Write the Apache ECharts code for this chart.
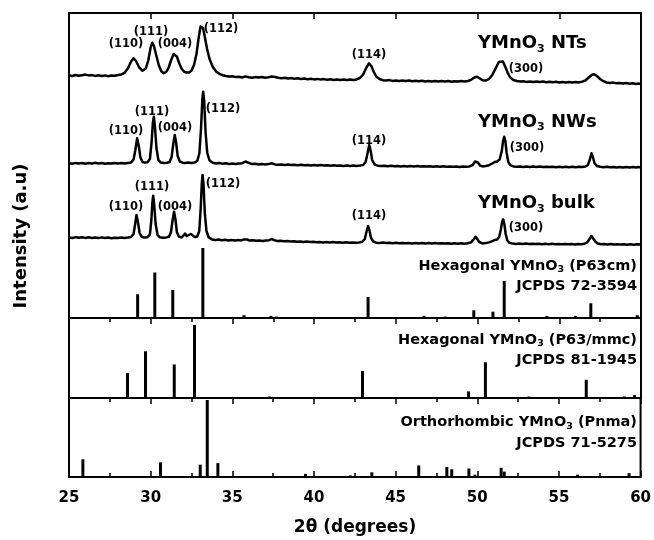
<!DOCTYPE html>
<html><head><meta charset="utf-8">
<script src="https://cdn.jsdelivr.net/npm/echarts@6/dist/echarts.min.js"></script>
<style>html,body{margin:0;padding:0;background:#fff}#c{width:654px;height:540px}</style>
</head><body><div id="c"></div>
<script>
// ---------- DATA ----------
const xMin = 25, xMax = 60, xStep = 5;
const xTickLabels = ['25','30','35','40','45','50','55','60'];

// measured XRD patterns: [2θ, intensity (a.u.)]
const ntsPattern = [
[25.0,12.5],[25.2,12.0],[25.4,13.0],[25.6,12.2],[25.8,12.8],[26.0,13.4],[26.2,12.6],[26.4,12.9],[26.6,12.1],[26.8,12.7],
[27.0,12.0],[27.2,12.6],[27.4,11.8],[27.6,12.4],[27.8,12.2],[28.0,13.0],[28.2,13.6],[28.4,15.2],[28.6,19.5],[28.8,26.5],
[28.95,29.7],[29.1,27.0],[29.3,20.5],[29.5,17.2],[29.7,19.5],[29.85,27.5],[30.0,41.0],[30.1,45.3],[30.2,42.0],[30.35,32.0],
[30.5,22.5],[30.65,16.8],[30.8,14.8],[30.95,16.0],[31.1,20.5],[31.25,28.0],[31.4,34.0],[31.47,34.7],[31.6,31.5],[31.75,24.5],
[31.9,19.0],[32.05,16.2],[32.2,15.4],[32.35,15.6],[32.5,17.5],[32.65,23.0],[32.8,34.0],[32.95,52.0],[33.05,61.5],[33.12,63.0],
[33.2,60.0],[33.3,52.0],[33.45,39.0],[33.6,29.0],[33.8,21.0],[34.0,16.5],[34.2,14.2],[34.4,12.8],[34.6,12.0],[34.8,11.4],
[35.0,11.8],[35.2,10.9],[35.4,11.2],[35.6,10.5],[35.8,11.6],[36.0,10.8],[36.2,10.2],[36.4,10.9],[36.6,10.4],[36.8,10.9],
[37.0,10.3],[37.2,10.8],[37.4,11.4],[37.6,11.0],[37.8,10.2],[38.0,9.8],[38.2,10.3],[38.4,9.5],[38.6,9.9],[38.8,9.2],
[39.0,9.7],[39.2,9.1],[39.4,9.4],[39.6,8.8],[39.8,9.3],[40.0,8.6],[40.2,9.1],[40.4,8.4],[40.6,8.9],[40.8,8.2],
[41.0,8.7],[41.2,8.1],[41.4,8.6],[41.6,8.0],[41.8,8.5],[42.0,7.9],[42.2,8.4],[42.4,8.0],[42.6,8.6],[42.8,10.0],
[43.0,13.5],[43.2,20.5],[43.35,24.7],[43.5,22.0],[43.65,16.0],[43.8,11.5],[44.0,9.0],[44.2,7.8],[44.4,7.4],[44.6,7.9],
[44.8,7.1],[45.0,7.6],[45.2,7.0],[45.4,7.5],[45.6,6.9],[45.8,7.4],[46.0,6.8],[46.2,7.3],[46.4,6.7],[46.6,7.2],
[46.8,6.6],[47.0,7.1],[47.2,6.5],[47.4,7.0],[47.6,6.4],[47.8,6.9],[48.0,6.5],[48.2,7.0],[48.4,6.3],[48.6,6.8],
[48.8,6.4],[49.0,6.9],[49.2,6.5],[49.4,7.0],[49.6,8.2],[49.8,10.5],[49.95,11.3],[50.1,10.0],[50.3,7.8],[50.5,7.4],
[50.7,9.0],[50.9,13.0],[51.1,19.5],[51.3,26.0],[51.42,28.0],[51.55,26.5],[51.7,21.0],[51.85,15.0],[52.0,10.5],[52.2,8.0],
[52.4,7.0],[52.6,6.4],[52.8,6.8],[53.0,6.1],[53.2,6.6],[53.4,6.0],[53.6,6.5],[53.8,5.9],[54.0,6.4],[54.2,5.8],
[54.4,6.3],[54.6,5.7],[54.8,6.2],[55.0,5.6],[55.2,6.1],[55.4,5.5],[55.6,6.0],[55.8,5.5],[56.0,6.0],[56.2,5.6],
[56.4,6.3],[56.6,7.5],[56.8,10.5],[57.0,13.2],[57.13,13.7],[57.3,12.0],[57.5,9.0],[57.7,6.8],[57.9,5.5],[58.1,5.0],
[58.3,5.4],[58.5,4.7],[58.7,5.1],[58.9,4.5],[59.1,4.9],[59.3,4.3],[59.5,4.7],[59.7,4.1],[59.85,4.5],[60.0,4.0]
];
const nwsPattern = [
[25.0,9.8],[25.2,9.2],[25.4,10.1],[25.6,9.5],[25.8,10.0],[26.0,9.3],[26.2,9.9],[26.4,9.4],[26.6,10.2],[26.8,9.6],
[27.0,9.9],[27.2,9.3],[27.4,9.8],[27.6,9.4],[27.8,10.0],[28.0,9.5],[28.2,9.9],[28.4,9.6],[28.6,10.1],[28.8,10.6],
[28.95,13.5],[29.05,22.0],[29.17,34.7],[29.27,27.0],[29.37,15.5],[29.5,11.0],[29.65,10.4],[29.8,10.8],[29.95,14.0],[30.05,30.0],
[30.13,50.0],[30.19,56.3],[30.26,46.0],[30.35,25.0],[30.47,13.0],[30.6,10.6],[30.8,10.0],[31.0,10.3],[31.15,11.0],[31.28,16.0],
[31.38,29.0],[31.47,38.0],[31.55,31.0],[31.65,17.0],[31.78,11.5],[31.95,10.3],[32.1,10.0],[32.3,10.4],[32.5,10.1],[32.7,10.6],
[32.85,12.0],[32.98,20.0],[33.08,45.0],[33.16,74.0],[33.21,81.3],[33.27,72.0],[33.36,40.0],[33.46,20.0],[33.6,12.5],[33.8,10.2],
[34.0,9.6],[34.2,9.9],[34.4,9.3],[34.6,9.7],[34.8,9.1],[35.0,9.5],[35.2,9.0],[35.4,9.4],[35.6,9.8],[35.8,11.5],
[35.9,12.0],[36.0,10.2],[36.2,8.9],[36.4,9.2],[36.6,8.6],[36.8,9.0],[37.0,8.5],[37.2,8.9],[37.4,9.7],[37.6,8.6],
[37.8,8.2],[38.0,8.6],[38.2,8.0],[38.4,8.4],[38.6,7.9],[38.8,8.3],[39.0,7.8],[39.2,8.2],[39.4,7.7],[39.6,8.1],
[39.8,7.6],[40.0,8.0],[40.2,7.5],[40.4,7.9],[40.6,7.4],[40.8,7.8],[41.0,7.3],[41.2,7.7],[41.4,7.2],[41.6,7.6],
[41.8,7.1],[42.0,7.5],[42.2,7.0],[42.4,7.4],[42.6,7.0],[42.8,7.4],[43.0,8.0],[43.15,11.0],[43.27,20.0],[43.37,28.0],
[43.45,23.0],[43.55,13.0],[43.7,8.5],[43.9,7.3],[44.1,6.9],[44.3,7.3],[44.5,6.8],[44.7,7.2],[44.9,6.7],[45.1,7.1],
[45.3,6.6],[45.5,7.0],[45.7,6.6],[45.9,7.0],[46.1,6.5],[46.3,6.9],[46.5,6.4],[46.7,6.8],[46.9,6.4],[47.1,6.8],
[47.3,6.3],[47.5,6.7],[47.7,6.3],[47.9,6.7],[48.1,6.2],[48.3,6.6],[48.5,6.2],[48.7,6.6],[48.9,6.1],[49.1,6.5],
[49.3,6.2],[49.5,6.6],[49.7,8.0],[49.85,11.5],[49.92,13.0],[50.02,10.5],[50.15,7.5],[50.3,6.6],[50.5,7.0],[50.7,7.8],
[50.9,9.5],[51.05,11.0],[51.2,11.5],[51.35,13.5],[51.48,22.0],[51.56,32.0],[51.63,36.3],[51.7,32.0],[51.78,20.0],[51.88,11.0],
[52.0,7.8],[52.2,6.6],[52.4,6.2],[52.6,6.6],[52.8,6.1],[53.0,6.5],[53.2,6.0],[53.4,6.4],[53.6,6.0],[53.8,6.4],
[54.0,5.9],[54.2,6.3],[54.4,5.9],[54.6,6.3],[54.8,5.8],[55.0,6.2],[55.2,5.8],[55.4,6.2],[55.6,5.8],[55.8,6.2],
[56.0,5.8],[56.2,6.3],[56.4,6.0],[56.6,6.5],[56.75,8.0],[56.88,14.0],[56.97,19.7],[57.05,16.5],[57.15,10.0],[57.3,7.0],
[57.5,6.2],[57.7,5.8],[57.9,6.2],[58.1,5.7],[58.3,6.1],[58.5,5.6],[58.7,6.0],[58.9,5.6],[59.1,6.0],[59.3,5.5],
[59.5,5.9],[59.7,5.5],[59.85,5.9],[60.0,5.6]
];
const bulkPattern = [
[25.0,10.6],[25.2,10.0],[25.4,10.9],[25.6,10.3],[25.8,10.8],[26.0,10.1],[26.2,10.7],[26.4,10.0],[26.6,10.5],[26.8,9.9],
[27.0,10.6],[27.2,10.0],[27.4,10.4],[27.6,9.8],[27.8,10.3],[28.0,9.9],[28.2,10.5],[28.4,10.0],[28.6,10.4],[28.8,11.0],
[28.95,14.0],[29.03,22.0],[29.13,33.0],[29.22,26.0],[29.32,15.0],[29.45,11.2],[29.6,10.5],[29.8,10.8],[29.95,13.5],[30.04,28.0],
[30.1,45.0],[30.15,52.3],[30.21,44.0],[30.3,24.0],[30.42,13.0],[30.55,10.8],[30.75,10.2],[30.95,10.6],[31.12,11.2],[31.24,16.0],
[31.34,28.0],[31.43,36.3],[31.51,29.0],[31.6,16.0],[31.72,11.5],[31.9,10.5],[32.0,11.5],[32.1,14.5],[32.2,12.0],[32.3,11.0],
[32.45,14.0],[32.55,13.0],[32.7,11.0],[32.85,11.5],[32.97,17.0],[33.06,40.0],[33.13,66.0],[33.17,73.0],[33.23,64.0],[33.31,35.0],
[33.41,17.0],[33.55,10.5],[33.75,8.6],[33.95,8.0],[34.15,8.4],[34.35,7.8],[34.55,8.2],[34.75,7.6],[34.95,8.0],[35.15,7.5],
[35.35,7.9],[35.55,7.6],[35.7,8.6],[35.8,9.5],[35.9,8.5],[36.05,7.4],[36.25,7.8],[36.45,7.2],[36.65,7.6],[36.85,7.1],
[37.05,7.5],[37.25,7.8],[37.4,9.0],[37.55,7.9],[37.75,7.0],[37.95,7.3],[38.15,6.8],[38.35,6.9],[38.55,6.4],[38.75,6.8],
[38.95,6.2],[39.15,6.6],[39.35,6.0],[39.55,6.4],[39.75,5.9],[39.95,6.3],[40.15,5.7],[40.35,6.1],[40.55,5.6],[40.75,6.0],
[40.95,5.5],[41.15,5.9],[41.35,5.4],[41.55,5.8],[41.75,5.3],[41.95,5.7],[42.15,5.2],[42.35,5.6],[42.55,5.2],[42.75,5.6],
[42.95,6.2],[43.1,9.0],[43.2,16.0],[43.3,22.0],[43.38,18.0],[43.48,10.0],[43.62,6.5],[43.8,5.3],[44.0,5.0],[44.2,5.4],
[44.4,4.9],[44.6,5.3],[44.8,4.8],[45.0,5.2],[45.2,4.8],[45.4,5.1],[45.6,4.7],[45.8,5.1],[46.0,4.6],[46.2,5.0],
[46.4,4.6],[46.6,5.0],[46.8,4.5],[47.0,4.9],[47.2,4.5],[47.4,4.9],[47.6,4.4],[47.8,4.8],[48.0,4.4],[48.2,4.8],
[48.4,4.3],[48.6,4.7],[48.8,4.3],[49.0,4.7],[49.2,4.3],[49.4,4.8],[49.6,5.6],[49.75,8.5],[49.88,11.3],[49.98,9.0],
[50.1,6.0],[50.3,4.6],[50.5,4.9],[50.7,5.6],[50.9,6.8],[51.05,8.0],[51.2,8.4],[51.32,11.0],[51.42,18.0],[51.5,26.0],
[51.57,28.7],[51.64,24.0],[51.72,14.0],[51.82,7.5],[51.95,5.2],[52.15,4.4],[52.35,4.1],[52.55,4.5],[52.75,4.0],[52.95,4.4],
[53.15,3.9],[53.35,4.3],[53.55,3.9],[53.75,4.3],[53.95,3.8],[54.15,4.2],[54.35,3.8],[54.55,4.2],[54.75,3.7],[54.95,4.1],
[55.15,3.7],[55.35,4.1],[55.55,3.7],[55.75,4.1],[55.95,3.6],[56.15,4.0],[56.35,3.7],[56.55,4.3],[56.7,5.5],[56.85,9.0],
[56.97,12.0],[57.07,10.0],[57.2,6.5],[57.35,4.5],[57.55,3.7],[57.75,4.0],[57.95,3.5],[58.15,3.9],[58.35,3.4],[58.55,3.8],
[58.75,3.4],[58.95,3.8],[59.15,3.3],[59.35,3.7],[59.55,3.3],[59.75,3.7],[60.0,3.4]
];

// reference stick patterns (2θ, relative intensity)
const p63cmPos = [29.20,30.25,31.35,33.19,35.71,37.36,37.70,43.30,46.72,48.03,49.77,50.94,51.63,54.24,55.99,56.93,59.77];
const p63cmInt = [34,65,40,100,4,3,2,30,3,2,11,9,53,3,3,21,4];
const p63mmcPos = [28.58,29.68,31.44,32.68,37.27,42.96,49.45,50.48,53.14,56.65,58.99,59.61];
const p63mmcInt = [34,64,46,100,2,37,9,49,2,25,2,4];
const pnmaPos = [25.85,30.60,33.03,33.46,34.11,39.47,42.22,43.53,46.40,48.12,48.42,49.47,49.84,51.44,51.63,56.12,59.27];
const pnmaInt = [23,19,16,100,18,4,2,6,15,13,10,11,3,12,7,3,5];

// text (subscript marked as {s|3})
const sampleNames = ['{m|YMnO}{s|3}{m| NTs}','{m|YMnO}{s|3}{m| NWs}','{m|YMnO}{s|3}{m| bulk}'];
const peakNames = ['(110)','(111)','(004)','(112)','(114)','(300)'];
const refNames = [
  ['{m|Hexagonal YMnO}{s|3}{m| (P63cm)}','JCPDS 72-3594'],
  ['{m|Hexagonal YMnO}{s|3}{m| (P63/mmc)}','JCPDS 81-1945'],
  ['{m|Orthorhombic YMnO}{s|3}{m| (Pnma)}','JCPDS 71-5275']];
const xName = '2θ (degrees)';
const yName = 'Intensity (a.u)';

// ---------- LAYOUT ----------
const FONT = '"DejaVu Sans", "Liberation Sans", Arial, sans-serif';
const gL = 69, gR = 13;
const offsets = [230, 145, 70]; // vertical stacking offset (a.u.) for NTs, NWs, bulk
const peakLabelPos = [
  [[126,44],[151,32.5],[175,44],[221,29.5],[369,55],[526,69]],
  [[126,131],[152,111.7],[175,128],[223,109],[369,140.7],[527,148.3]],
  [[126,207],[152,187.5],[175,207],[223,184],[369,216],[526,228.3]]
];
const sampleLabelPos = [[478,43.5],[478,122],[478,203.5]];
const refLabelPos = [[266,286],[340,360],[422.7,443.3]];

const chart = echarts.init(document.getElementById('c'), null, {renderer:'canvas'});

const frame = {show:true, borderColor:'#000', borderWidth:2, backgroundColor:'transparent'};
const grids = [
  Object.assign({left:gL, right:gR, top:13, height:305}, frame),
  Object.assign({left:gL, right:gR, top:318, height:80}, frame),
  Object.assign({left:gL, right:gR, top:398, height:79}, frame),
  {left:gL, right:gR, top:248, height:70},
  {left:gL, right:gR, top:325, height:73},
  {left:gL, right:gR, top:400, height:77}
];
const tickStyle = {color:'#000', width:1.5};
function frameX(grid, pos, minor, labels) {
  return {
    type:'value', gridIndex:grid, position:pos, min:xMin, max:xMax, interval:xStep,
    axisLine:{show:false, onZero:false}, splitLine:{show:false},
    axisTick:{show:true, inside:true, length:6, lineStyle:tickStyle},
    minorTick:{show:minor, splitNumber:2, length:4, lineStyle:tickStyle},
    axisLabel:{show:labels, color:'#000', fontFamily:FONT, fontWeight:'bold', fontSize:15, margin:14,
      showMinLabel:true, showMaxLabel:true,
      formatter: v => xTickLabels[Math.round((v - xMin) / xStep)]}
  };
}
function hiddenX(grid){ return {type:'value', gridIndex:grid, min:xMin, max:xMax, show:false}; }
function hiddenY(grid, max){ return {type:'value', gridIndex:grid, min:0, max:max, show:false}; }

const xAxes = [frameX(0,'top',false,false), frameX(1,'top',true,false), frameX(2,'top',true,false), frameX(2,'bottom',true,true),
  hiddenX(3), hiddenX(4), hiddenX(5)];
const yAxes = [hiddenY(0,305), hiddenY(1,100), hiddenY(2,100), hiddenY(3,100), hiddenY(4,100), hiddenY(5,100)];

function lineSeries(pattern, off){
  return {type:'line', xAxisIndex:0, yAxisIndex:0, showSymbol:false, symbol:'none', silent:true,
    lineStyle:{color:'#000', width:2.5, join:'round'}, data: pattern.map(p => [p[0], p[1] + off]), animation:false};
}
function stickSeries(pos, ints, xi, yi){
  return {type:'bar', xAxisIndex:xi, yAxisIndex:yi, barWidth:3, silent:true, itemStyle:{color:'#000'},
    data: pos.map((p,i) => [p, ints[i]]), animation:false};
}
function richText(size, subSize, lh){
  return {
    m:{fontSize:size, fontWeight:'bold', fontFamily:FONT, fill:'#000', lineHeight:lh},
    s:{fontSize:subSize, fontWeight:'bold', fontFamily:FONT, fill:'#000', lineHeight:subSize, verticalAlign:'bottom'}
  };
}

const graphics = [];
peakLabelPos.forEach(row => row.forEach((p,i) => {
  graphics.push({type:'text', x:p[0], y:p[1], silent:true, style:{text:peakNames[i], fill:'#000',
    font:'bold 11.5px ' + FONT, align:'center', verticalAlign:'middle'}});
}));
sampleLabelPos.forEach((p,i) => graphics.push({type:'text', x:p[0], y:p[1], silent:true,
  style:{text:sampleNames[i], rich:richText(18, 11, 22), align:'left', verticalAlign:'middle'}}));
refLabelPos.forEach((ys,i) => {
  graphics.push({type:'text', x:637, y:ys[0], silent:true, style:{text:refNames[i][0], rich:richText(14.5, 9.5, 18), align:'right', verticalAlign:'middle'}});
  graphics.push({type:'text', x:637, y:ys[1], silent:true, style:{text:refNames[i][1], fill:'#000', font:'bold 14.5px ' + FONT, align:'right', verticalAlign:'middle'}});
});
graphics.push({type:'text', x:355, y:528, silent:true, style:{text:xName, fill:'#000', font:'bold 17px ' + FONT, align:'center', verticalAlign:'middle'}});
graphics.push({type:'text', x:21, y:236, rotation:Math.PI/2, silent:true, style:{text:yName, fill:'#000', font:'bold 18px ' + FONT, align:'center', verticalAlign:'middle'}});

chart.setOption({
  animation:false,
  backgroundColor:'#fff',
  grid: grids,
  xAxis: xAxes,
  yAxis: yAxes,
  series: [
    lineSeries(ntsPattern, offsets[0]),
    lineSeries(nwsPattern, offsets[1]),
    lineSeries(bulkPattern, offsets[2]),
    stickSeries(p63cmPos, p63cmInt, 4, 3),
    stickSeries(p63mmcPos, p63mmcInt, 5, 4),
    stickSeries(pnmaPos, pnmaInt, 6, 5)
  ],
  graphic: {elements: graphics}
});
</script></body></html>
